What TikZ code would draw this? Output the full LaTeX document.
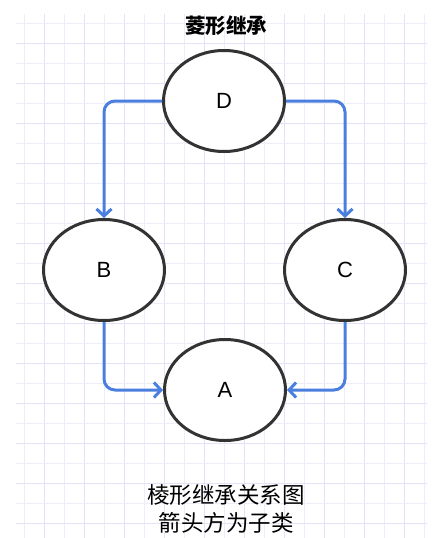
\documentclass[tikz,border=0pt]{standalone}
\usepackage{fontspec}
\setmainfont{Liberation Sans}
\newfontfamily\cjk{Noto Sans CJK SC}
\usetikzlibrary{arrows.meta,shapes.geometric}
\definecolor{gridA}{HTML}{E2E2F8}
\definecolor{gridB}{HTML}{EEEEFB}
\definecolor{arrowblue}{HTML}{4A7FE0}
\definecolor{edgegray}{HTML}{333333}
\tikzset{
  cls/.style={draw=edgegray, line width=3pt, ellipse, fill=white, minimum width=121pt, minimum height=101pt, inner sep=0pt, font=\fontsize{22}{22}\selectfont},
  inh/.style={draw=arrowblue, line width=3pt, rounded corners=11pt, -{Straight Barb[length=7pt,width=15pt,line width=3pt]}},
}
\begin{document}
\begin{tikzpicture}[x=1pt,y=-1pt]
\useasboundingbox (0,0) rectangle (440,538);
\fill[white] (0,0) rectangle (440,538);
% grid
\begin{scope}
\clip (16,14) rectangle (427,538);
\foreach \i in {0,...,20} {
  \pgfmathsetmacro{\xx}{24+20*\i}
  \ifodd\i \def\gc{gridA}\else\def\gc{gridB}\fi
  \draw[\gc, line width=1pt] (\xx,14) -- (\xx,538);
}
\foreach \j in {0,...,26} {
  \pgfmathsetmacro{\yy}{23+20*\j}
  \ifodd\j \def\gc{gridA}\else\def\gc{gridB}\fi
  \draw[\gc, line width=1pt] (16,\yy) -- (427,\yy);
}
\end{scope}
\node[font=\cjk\bfseries\fontsize{20.5}{20.5}\selectfont] (title) at (226,26) {菱形继承};
\node[cls] (D) at (224,101) {D};
\node[cls] (B) at (104,270) {B};
\node[cls] (C) at (345,270) {C};
\node[cls] (A) at (225,390) {A};
\draw[inh] (D.west) -| (B.north);
\draw[inh] (D.east) -| (C.north);
\draw[inh] (B.south) |- (A.west);
\draw[inh] (C.south) |- (A.east);
\node[font=\cjk\fontsize{22.5}{28}\selectfont, align=center] (cap) at (226,509) {棱形继承关系图\\箭头方为子类};
\end{tikzpicture}
\end{document}
